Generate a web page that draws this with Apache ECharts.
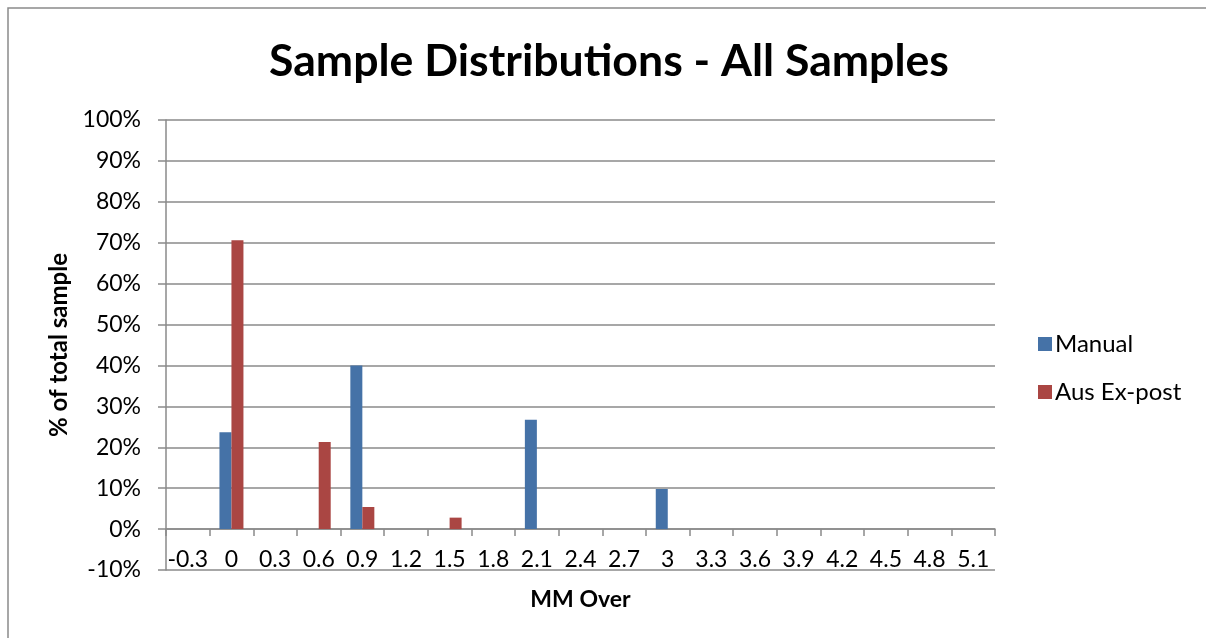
<!DOCTYPE html>
<html>
<head>
<meta charset="utf-8">
<script src="https://cdn.jsdelivr.net/npm/echarts@6/dist/echarts.min.js"></script>
<style>
html,body{margin:0;padding:0;background:#fff;}
#chart{width:1206px;height:638px;}
</style>
</head>
<body>
<div id="chart"></div>
<script>
var categories = ['-0.3','0','0.3','0.6','0.9','1.2','1.5','1.8','2.1','2.4','2.7','3','3.3','3.6','3.9','4.2','4.5','4.8','5.1'];
var manual = [0, 23.7, 0, 0, 40.0, 0, 0, 0, 26.7, 0, 0, 9.8, 0, 0, 0, 0, 0, 0, 0];
var ausExPost = [0, 70.6, 0, 21.3, 5.4, 0, 2.8, 0, 0, 0, 0, 0, 0, 0, 0, 0, 0, 0, 0];
var seriesNames = ['Manual', 'Aus Ex-post'];

var FONT = 'Lato, "Open Sans", sans-serif';
var GRID = '#8a8a8a';
var chart = echarts.init(document.getElementById('chart'));
chart.setOption({
  animation: false,
  backgroundColor: '#ffffff',
  textStyle: { fontFamily: FONT },
  graphic: [{
    type: 'rect',
    shape: { x: 8, y: 8, width: 1220, height: 660 },
    style: { fill: 'none', stroke: '#8a8a8a', lineWidth: 1.5 },
    silent: true
  }],
  title: {
    text: 'Sample Distributions - All Samples',
    left: 264,
    top: 34,
    textStyle: { fontFamily: FONT, fontSize: 44.6, fontWeight: 'bold', color: '#000' }
  },
  legend: {
    orient: 'vertical',
    left: 1033,
    top: 327,
    itemWidth: 14,
    itemHeight: 14,
    itemGap: 24,
    icon: 'rect',
    data: seriesNames,
    textStyle: { fontFamily: FONT, fontSize: 24, color: '#000', padding: [0,0,0,-2] }
  },
  grid: { left: 166, right: 211, top: 120, bottom: 68, containLabel: false, outerBoundsMode: 'none' },
  xAxis: {
    type: 'category',
    data: categories,
    name: 'MM Over',
    nameLocation: 'middle',
    nameGap: 18,
    nameTextStyle: { fontFamily: FONT, fontSize: 23, fontWeight: 'bold', color: '#000' },
    axisLine: { onZero: true, lineStyle: { color: GRID, width: 1.5 } },
    axisTick: { show: true, length: 7, alignWithLabel: false, lineStyle: { color: GRID, width: 1.5 } },
    axisLabel: { interval: 0, margin: -22, fontSize: 23, color: '#000', fontFamily: FONT },
    splitLine: { show: false }
  },
  yAxis: {
    type: 'value',
    min: -10,
    max: 100,
    interval: 10,
    name: '% of total sample',
    nameLocation: 'middle',
    nameGap: 88,
    nameTextStyle: { fontFamily: FONT, fontSize: 24, fontWeight: 'bold', color: '#000' },
    axisLine: { show: true, lineStyle: { color: GRID, width: 1.5 } },
    axisTick: { show: true, length: 8, lineStyle: { color: GRID, width: 1.5 } },
    axisLabel: { formatter: '{value}%', margin: 25, fontSize: 23, color: '#000', fontFamily: FONT },
    splitLine: { show: true, lineStyle: { color: GRID, width: 1.5 } }
  },
  series: [{
    name: seriesNames[0],
    type: 'bar',
    data: manual,
    barGap: '0%',
    barCategoryGap: '45%',
    itemStyle: { color: '#4572A7' }
  }, {
    name: seriesNames[1],
    type: 'bar',
    data: ausExPost,
    barGap: '0%',
    barCategoryGap: '45%',
    itemStyle: { color: '#AA4643' }
  }]
});
</script>
</body>
</html>
